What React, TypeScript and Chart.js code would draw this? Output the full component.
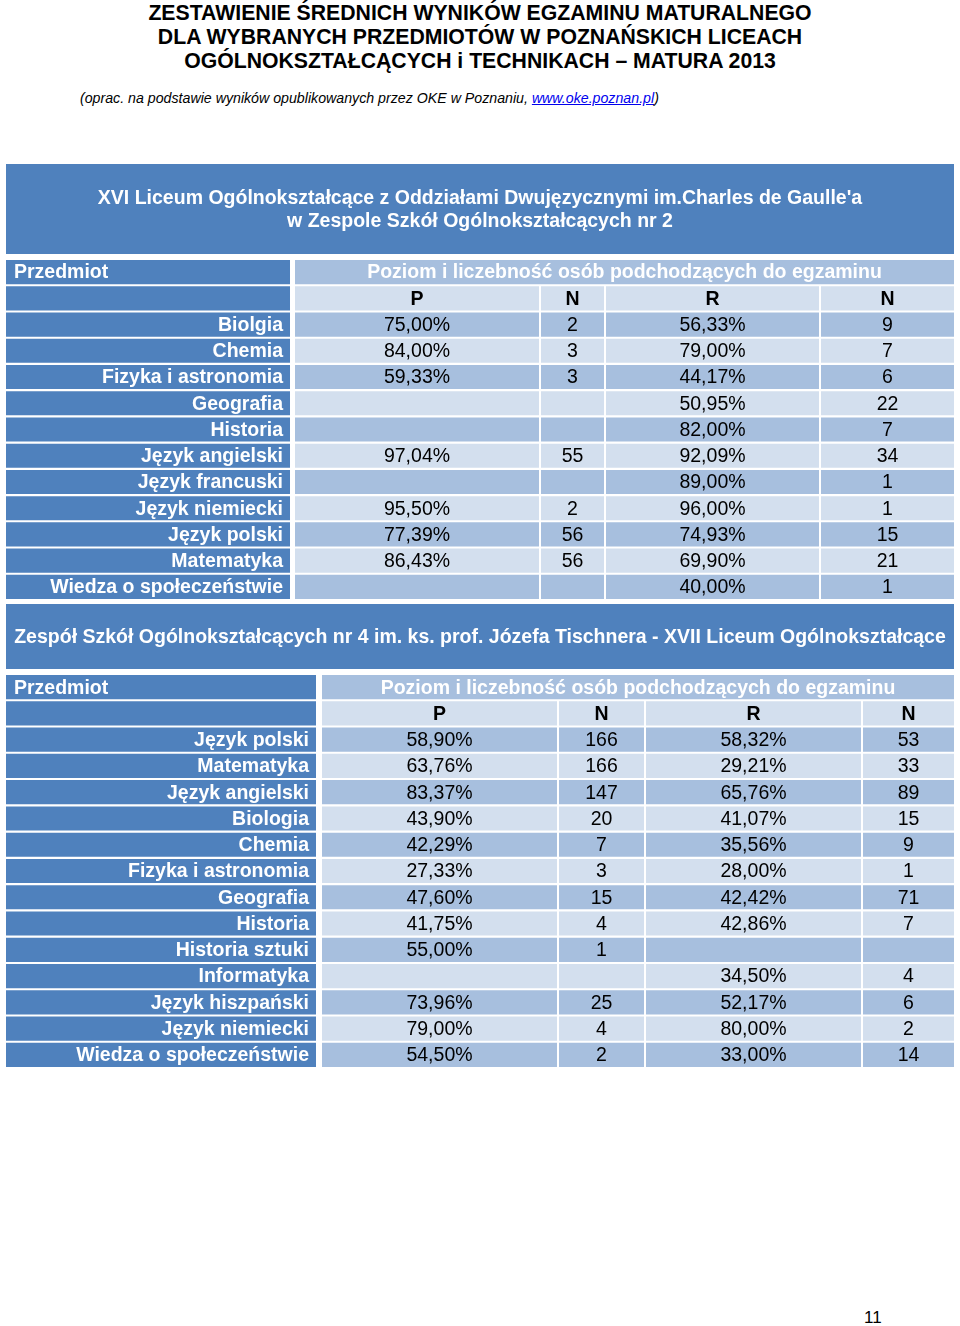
import React, { useEffect, useRef } from "react";
import { Chart, registerables } from "chart.js";

Chart.register(...registerables);

// ---------- text content ----------
const TITLE_LINES = [
  "ZESTAWIENIE ŚREDNICH WYNIKÓW EGZAMINU MATURALNEGO",
  "DLA WYBRANYCH PRZEDMIOTÓW W POZNAŃSKICH LICEACH",
  "OGÓLNOKSZTAŁCĄCYCH i TECHNIKACH – MATURA 2013",
];
const SUBTITLE_START = "(oprac. na podstawie wyników opublikowanych przez OKE w Poznaniu, ";
const SUBTITLE_LINK = "www.oke.poznan.pl";
const SUBTITLE_END = ")";
const PAGE_NUMBER = "11";

const SUBJECT_HEADER = "Przedmiot";
const LEVEL_HEADER = "Poziom i liczebność osób podchodzących do egzaminu";
const COLUMN_HEADERS = ["P", "N", "R", "N"];

// ---------- table 1 ----------
const school1Lines = [
  "XVI Liceum Ogólnokształcące z Oddziałami Dwujęzycznymi im.Charles de Gaulle'a",
  "w Zespole Szkół Ogólnokształcących nr 2",
];
const subjects1 = [
  "Biolgia",
  "Chemia",
  "Fizyka i astronomia",
  "Geografia",
  "Historia",
  "Język angielski",
  "Język francuski",
  "Język niemiecki",
  "Język polski",
  "Matematyka",
  "Wiedza o społeczeństwie",
];
const basicPct1 = [75.0, 84.0, 59.33, null, null, 97.04, null, 95.5, 77.39, 86.43, null];
const basicN1 = [2, 3, 3, null, null, 55, null, 2, 56, 56, null];
const extPct1 = [56.33, 79.0, 44.17, 50.95, 82.0, 92.09, 89.0, 96.0, 74.93, 69.9, 40.0];
const extN1 = [9, 7, 6, 22, 7, 34, 1, 1, 15, 21, 1];

// ---------- table 2 ----------
const school2Lines = [
  "Zespół Szkół Ogólnokształcących nr 4 im. ks. prof. Józefa Tischnera - XVII Liceum Ogólnokształcące",
];
const subjects2 = [
  "Język polski",
  "Matematyka",
  "Język angielski",
  "Biologia",
  "Chemia",
  "Fizyka i astronomia",
  "Geografia",
  "Historia",
  "Historia sztuki",
  "Informatyka",
  "Język hiszpański",
  "Język niemiecki",
  "Wiedza o społeczeństwie",
];
const basicPct2 = [58.9, 63.76, 83.37, 43.9, 42.29, 27.33, 47.6, 41.75, 55.0, null, 73.96, 79.0, 54.5];
const basicN2 = [166, 166, 147, 20, 7, 3, 15, 4, 1, null, 25, 4, 2];
const extPct2 = [58.32, 29.21, 65.76, 41.07, 35.56, 28.0, 42.42, 42.86, null, 34.5, 52.17, 80.0, 33.0];
const extN2 = [53, 33, 89, 15, 9, 1, 71, 7, null, 4, 6, 2, 14];

// ---------- layout / style ----------
const DARK = "#4f81bd";
const MID = "#a7bfde";
const LIGHT = "#d3dfee";
const FONT = "'Liberation Sans', Arial, sans-serif";
const TABLE_WIDTH = 948;

type Layout = {
  top: number;
  height: number;
  headerHeight: number;
  edges: number[][];
};

const LAYOUT1: Layout = {
  top: 164,
  height: 436,
  headerHeight: 90,
  edges: [
    [0, 284],
    [289, 533],
    [535, 598],
    [600, 813],
    [815, 948],
  ],
};
const LAYOUT2: Layout = {
  top: 604,
  height: 464,
  headerHeight: 65,
  edges: [
    [0, 310],
    [316, 551],
    [553, 638],
    [640, 855],
    [857, 948],
  ],
};

const fmtPct = (v: number | null) => (v == null ? "" : v.toFixed(2).replace(".", ",") + "%");
const fmtN = (v: number | null) => (v == null ? "" : String(v));

const schoolHeaderPlugin = {
  id: "schoolHeader",
  beforeDatasetsDraw(chart: any) {
    const opts = chart.options.plugins.schoolHeader;
    const { ctx } = chart;
    const xs = chart.scales.x;
    const left = xs.getPixelForValue(0);
    const right = xs.getPixelForValue(TABLE_WIDTH);
    ctx.save();
    ctx.fillStyle = DARK;
    ctx.fillRect(left, 0, right - left, opts.height);
    ctx.fillStyle = "#ffffff";
    ctx.font = "bold 19.5px " + FONT;
    ctx.textAlign = "center";
    ctx.textBaseline = "middle";
    const lines: string[] = opts.lines;
    const spacing = 23;
    const cy = opts.height / 2 + 1;
    lines.forEach((line, i) => {
      const y = cy + (i - (lines.length - 1) / 2) * spacing;
      ctx.fillText(line, (left + right) / 2, y);
    });
    ctx.restore();
  },
};

const cellTextPlugin = {
  id: "cellText",
  afterDatasetsDraw(chart: any) {
    const texts: string[][] = chart.options.plugins.cellText.texts;
    const ctx = chart.ctx;
    chart.data.datasets.forEach((_ds: any, c: number) => {
      const meta = chart.getDatasetMeta(c);
      meta.data.forEach((el: any, r: number) => {
        const t = texts[c][r];
        if (!t) return;
        const { x, y, base } = el.getProps(["x", "y", "base"], true);
        const left = Math.min(x, base);
        const right = Math.max(x, base);
        ctx.save();
        ctx.textBaseline = "middle";
        const isHeaderText = c === 0 || r < 2;
        ctx.font = (isHeaderText ? "bold " : "") + "19.5px " + FONT;
        if (c === 0) {
          ctx.fillStyle = "#ffffff";
          if (r === 0) {
            ctx.textAlign = "left";
            ctx.fillText(t, left + 8, y + 1);
          } else {
            ctx.textAlign = "right";
            ctx.fillText(t, right - 7, y + 1);
          }
        } else {
          ctx.fillStyle = r === 0 ? "#ffffff" : "#000000";
          ctx.textAlign = "center";
          ctx.fillText(t, (left + right) / 2, y + 1);
        }
        ctx.restore();
      });
    });
  },
};

type TableProps = {
  layout: Layout;
  schoolLines: string[];
  subjects: string[];
  basicPct: (number | null)[];
  basicN: (number | null)[];
  extPct: (number | null)[];
  extN: (number | null)[];
};

function SchoolTable(props: TableProps) {
  const ref = useRef<HTMLCanvasElement>(null);
  useEffect(() => {
    const { layout, schoolLines, subjects, basicPct, basicN, extPct, extN } = props;
    const rows = [SUBJECT_HEADER, "", ...subjects];
    const texts: string[][] = [
      rows,
      [LEVEL_HEADER, COLUMN_HEADERS[0], ...basicPct.map(fmtPct)],
      ["", COLUMN_HEADERS[1], ...basicN.map(fmtN)],
      ["", COLUMN_HEADERS[2], ...extPct.map(fmtPct)],
      ["", COLUMN_HEADERS[3], ...extN.map(fmtN)],
    ];
    const lastEdge = layout.edges[layout.edges.length - 1][1];
    const datasets = layout.edges.map((edge, c) => ({
      label: c === 0 ? SUBJECT_HEADER : COLUMN_HEADERS[c - 1],
      data: rows.map((_, r) => {
        if (r === 0 && c >= 2) return null;
        if (r === 0 && c === 1) return [edge[0], lastEdge];
        return [edge[0], edge[1]];
      }),
      backgroundColor: rows.map((_, r) =>
        c === 0 ? DARK : r === 0 ? MID : r === 1 ? LIGHT : (r - 2) % 2 === 0 ? MID : LIGHT
      ),
      borderWidth: 0,
      grouped: false,
      barPercentage: 0.92,
      categoryPercentage: 1,
    }));
    const chart = new Chart(ref.current as HTMLCanvasElement, {
      type: "bar",
      data: { labels: rows.map((r, i) => (r === "" ? " " + i : r)), datasets: datasets as any },
      options: {
        indexAxis: "y",
        animation: false,
        responsive: false,
        devicePixelRatio: 1,
        layout: { padding: { top: layout.headerHeight + 5, left: 0, right: 0, bottom: 0 } },
        scales: {
          x: { type: "linear", min: 0, max: TABLE_WIDTH, display: false },
          y: { type: "category", display: false, offset: true },
        },
        plugins: {
          legend: { display: false },
          tooltip: { enabled: false },
          title: { display: false },
          schoolHeader: { lines: schoolLines, height: layout.headerHeight },
          cellText: { texts },
        } as any,
      },
      plugins: [schoolHeaderPlugin, cellTextPlugin],
    });
    return () => chart.destroy();
  }, []);
  return (
    <canvas
      ref={ref}
      width={TABLE_WIDTH}
      height={props.layout.height}
      style={{ position: "absolute", left: 6, top: props.layout.top, width: TABLE_WIDTH, height: props.layout.height }}
    />
  );
}

export default function App() {
  return (
    <div style={{ position: "absolute", left: 0, top: 0, width: 960, height: 1326, background: "#fff", overflow: "hidden" }}>
      {TITLE_LINES.map((line, i) => (
        <div
          key={i}
          style={{
            position: "absolute",
            left: 0,
            width: 960,
            top: 1 + i * 24,
            height: 24,
            lineHeight: "24px",
            textAlign: "center",
            fontFamily: FONT,
            fontWeight: "bold",
            fontSize: 22,
            color: "#000",
            transform: "scaleX(0.965)",
            whiteSpace: "nowrap",
          }}
        >
          {line}
        </div>
      ))}
      <div
        style={{
          position: "absolute",
          left: 80,
          top: 89,
          lineHeight: "18px",
          fontFamily: FONT,
          fontStyle: "italic",
          fontSize: 14.2,
          color: "#000",
          whiteSpace: "nowrap",
        }}
      >
        {SUBTITLE_START}
        <span style={{ color: "#0000ee", textDecoration: "underline" }}>{SUBTITLE_LINK}</span>
        {SUBTITLE_END}
      </div>
      <SchoolTable
        layout={LAYOUT1}
        schoolLines={school1Lines}
        subjects={subjects1}
        basicPct={basicPct1}
        basicN={basicN1}
        extPct={extPct1}
        extN={extN1}
      />
      <SchoolTable
        layout={LAYOUT2}
        schoolLines={school2Lines}
        subjects={subjects2}
        basicPct={basicPct2}
        basicN={basicN2}
        extPct={extPct2}
        extN={extN2}
      />
      <div
        style={{
          position: "absolute",
          left: 864,
          top: 1308,
          fontFamily: FONT,
          fontSize: 17,
          lineHeight: "20px",
          color: "#000",
        }}
      >
        {PAGE_NUMBER}
      </div>
    </div>
  );
}
